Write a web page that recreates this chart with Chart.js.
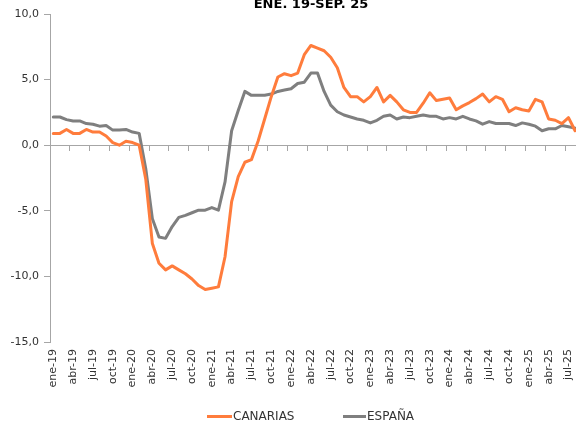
<!DOCTYPE html>
<html><head><meta charset="utf-8">
<script src="https://cdn.jsdelivr.net/npm/chart.js@4.4.1/dist/chart.umd.min.js"></script>
<style>
html,body{margin:0;padding:0;overflow:hidden;background:#fff}
#wrap{position:absolute;left:0;top:0;width:622px;height:423px}
</style></head>
<body><div id="wrap"><canvas id="c"></canvas></div>
<script>
const chartTitle = 'ENE. 19-SEP. 25';
const monthNames = ['ene','feb','mar','abr','may','jun','jul','ago','sep','oct','nov','dic'];
const years = ['19','20','21','22','23','24','25'];
const categories = [];
years.forEach(y => monthNames.forEach(m => categories.push(m + '-' + y)));
categories.length = 81; // ene-19 ... sep-25

const seriesNames = ['CANARIAS', 'ESPAÑA'];
const canarias = [
  0.9, 0.9, 1.2, 0.9, 0.9, 1.2, 1.0, 1.0, 0.7, 0.2, 0.0, 0.3,
  0.2, 0.0, -2.6, -7.5, -9.0, -9.5, -9.2, -9.5, -9.8, -10.2, -10.7, -11.0,
  -10.9, -10.8, -8.5, -4.3, -2.4, -1.3, -1.1, 0.3, 2.0, 3.7, 5.2, 5.45,
  5.3, 5.5, 6.9, 7.6, 7.4, 7.2, 6.7, 5.9, 4.4, 3.7, 3.7, 3.3,
  3.7, 4.4, 3.3, 3.8, 3.3, 2.7, 2.5, 2.5, 3.2, 4.0, 3.4, 3.5,
  3.6, 2.7, 3.0, 3.25, 3.55, 3.9, 3.3, 3.7, 3.5, 2.55, 2.85, 2.7,
  2.6, 3.5, 3.3, 2.0, 1.9, 1.65, 2.1, 1.1, 1.4
];
const espana = [
  2.15, 2.15, 1.95, 1.85, 1.85, 1.65, 1.6, 1.45, 1.5, 1.15, 1.15, 1.2,
  1.0, 0.9, -1.8, -5.6, -7.0, -7.1, -6.2, -5.5, -5.35, -5.15, -4.95, -4.95,
  -4.75, -4.95, -2.8, 1.1, 2.65, 4.1, 3.8, 3.8, 3.8, 3.9, 4.1, 4.2,
  4.3, 4.7, 4.8, 5.5, 5.5, 4.1, 3.05, 2.55, 2.3, 2.15, 2.0, 1.9,
  1.7, 1.9, 2.2, 2.3, 2.0, 2.15, 2.1, 2.2, 2.3, 2.2, 2.2, 2.0,
  2.1, 2.0, 2.2, 2.0, 1.85, 1.6, 1.8, 1.65, 1.65, 1.65, 1.5, 1.7,
  1.6, 1.45, 1.1, 1.25, 1.25, 1.5, 1.4, 1.3, 1.2
];
const yTicks = [-15, -10, -5, 0, 5, 10];

const colors = ['#FF7C3C', '#7F7F7F'];
const axisColor = '#A6A6A6';
const textColor = '#333333';

Chart.defaults.font.family = "'DejaVu Sans', Verdana, sans-serif";

const titlePlugin = {
  id: 'topTitle',
  afterDraw(chart) {
    const ctx = chart.ctx;
    ctx.save();
    ctx.font = "bold 13px 'DejaVu Sans'";
    ctx.fillStyle = '#000';
    ctx.textAlign = 'center';
    ctx.textBaseline = 'alphabetic';
    ctx.fillText(chartTitle, 311, 7.5);
    ctx.restore();
  }
};

const legendPlugin = {
  id: 'bottomLegend',
  afterDraw(chart) {
    const ctx = chart.ctx;
    const items = [{x: 207, w: 25}, {x: 343, w: 23}];
    ctx.save();
    ctx.font = "12px 'DejaVu Sans'";
    ctx.textBaseline = 'middle';
    ctx.textAlign = 'left';
    chart.data.datasets.forEach((ds, i) => {
      const it = items[i];
      ctx.strokeStyle = ds.borderColor;
      ctx.lineWidth = 3;
      ctx.beginPath();
      ctx.moveTo(it.x, 416.5);
      ctx.lineTo(it.x + it.w, 416.5);
      ctx.stroke();
      ctx.fillStyle = textColor;
      ctx.fillText(ds.label, it.x + it.w + 1, 416.5);
    });
    ctx.restore();
  }
};

new Chart(document.getElementById('c'), {
  type: 'line',
  data: {
    labels: categories,
    datasets: [
      {label: seriesNames[0], data: canarias, borderColor: colors[0], backgroundColor: colors[0],
       borderWidth: 3, pointRadius: 0, tension: 0, borderJoinStyle: 'round', borderCapStyle: 'round', xAxisID: 'x'},
      {label: seriesNames[1], data: espana, borderColor: colors[1], backgroundColor: colors[1],
       borderWidth: 3, pointRadius: 0, tension: 0, borderJoinStyle: 'round', borderCapStyle: 'round', xAxisID: 'x'}
    ]
  },
  options: {
    responsive: true,
    maintainAspectRatio: false,
    animation: false,
    layout: {padding: {left: 0, top: 14, right: 37, bottom: 0}},
    plugins: {legend: {display: false}, title: {display: false}, tooltip: {enabled: false}},
    scales: {
      x: {
        type: 'category',
        position: 'bottom',
        offset: true,
        grid: {display: false, drawTicks: false},
        border: {display: false},
        ticks: {
          autoSkip: false, minRotation: 90, maxRotation: 90, padding: 7,
          color: textColor, font: {size: 11},
          callback: function(v, i) { return i % 3 === 0 ? this.getLabelForValue(v) : ''; }
        },
        afterFit(scale) { scale.height = 81; }
      },
      x2: {
        type: 'category',
        position: {y: 0},
        offset: true,
        grid: {
          offset: true, drawOnChartArea: false, drawTicks: true, tickLength: 5,
          color: (c) => (c.index % 3 === 0 ? axisColor : 'rgba(0,0,0,0)')
        },
        border: {display: true, color: axisColor, width: 1},
        ticks: {display: false}
      },
      y: {
        min: -15, max: 10,
        afterBuildTicks(scale) { scale.ticks = yTicks.map(v => ({value: v})); },
        grid: {drawOnChartArea: false, drawTicks: true, tickLength: 6, color: axisColor},
        border: {display: true, color: axisColor, width: 1},
        ticks: {
          color: textColor, font: {size: 11}, padding: 5,
          callback: (v) => v.toFixed(1).replace('.', ',')
        },
        afterFit(scale) { scale.width = 50; }
      }
    }
  },
  plugins: [titlePlugin, legendPlugin]
});
</script>
</body></html>
